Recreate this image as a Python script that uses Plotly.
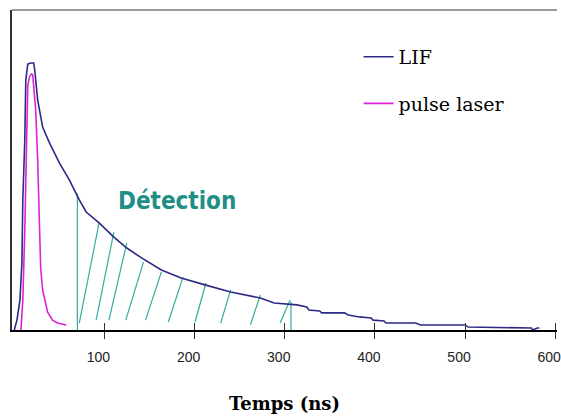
import plotly.graph_objects as go

# LIF curve (time in ns, normalised intensity)
lif_t = [0, 3.0, 6.3, 8.5, 9.5, 11.7, 12.8, 15.0, 18.3, 21.6, 22.7, 26.0, 31.5, 39.2, 50.2, 61.1,
         72.1, 79.8, 94.1, 110.5, 124.8, 141.2, 163.2, 185.1, 211.5, 240.0, 272.9, 288.3, 313.5,
         324.5, 326.7, 338.8, 341.0, 366.2, 370.6, 382.7, 395.8, 398.0, 410.1, 412.3, 445.2,
         450.7, 500.1, 503.4, 573.6, 574.7, 580.2, 582.4]
lif_v = [0, 0.037, 0.112, 0.251, 0.487, 0.712, 0.936, 0.996, 1.0, 1.0, 0.974, 0.861, 0.76, 0.70,
         0.625, 0.562, 0.487, 0.442, 0.401, 0.348, 0.307, 0.270, 0.225, 0.195, 0.169, 0.142, 0.120,
         0.101, 0.094, 0.086, 0.075, 0.071, 0.064, 0.064, 0.056, 0.049, 0.045, 0.037, 0.034, 0.026,
         0.026, 0.019, 0.019, 0.011, 0.0075, 0.0, 0.0075, 0.0075]

# laser pulse
pulse_t = [7.4, 9.5, 11.7, 12.8, 13.9, 15.0, 17.2, 19.4, 20.5, 21.6, 23.8, 26.0, 27.1, 28.2, 29.3,
           31.5, 33.7, 37.0, 42.5, 48.0, 57.8]
pulse_v = [0, 0.112, 0.375, 0.562, 0.787, 0.918, 0.951, 0.959, 0.955, 0.918, 0.824, 0.637, 0.487,
           0.337, 0.232, 0.150, 0.112, 0.067, 0.037, 0.026, 0.019]

# detection window (ns) and its hatching strokes
det_start, det_end = 70.0, 307.0
hatch_t0 = [72.1, 90.8, 105.0, 123.7, 145.6, 170.9, 200.5, 229.0, 262.0, 294.9]
hatch_v0 = [0.026, 0.037, 0.037, 0.037, 0.037, 0.030, 0.030, 0.026, 0.019, 0.026]
hatch_t1 = [94.1, 110.5, 124.8, 143.4, 163.2, 187.3, 212.6, 240.0, 272.9, 305.9]
hatch_v1 = [0.401, 0.367, 0.326, 0.255, 0.217, 0.199, 0.176, 0.150, 0.131, 0.112]

tick_vals = [100, 200, 300, 400, 500, 600]
tick_text = ["100", "200", "300", "400", "500", "600"]


def interp(t, xs, ys):
    for i in range(len(xs) - 1):
        if xs[i] <= t <= xs[i + 1]:
            f = (t - xs[i]) / (xs[i + 1] - xs[i])
            return ys[i] + f * (ys[i + 1] - ys[i])
    return ys[-1]


teal = "#35ab9f"
hx, hy = [], []
for a, b, c, d in zip(hatch_t0, hatch_v0, hatch_t1, hatch_v1):
    hx += [a, c, None]
    hy += [b, d, None]
for t in (det_start, det_end):
    hx += [t, t, None]
    hy += [0.0, interp(t, lif_t, lif_v) + 0.01, None]

fig = go.Figure()
fig.add_trace(go.Scatter(x=hx, y=hy, mode="lines", line=dict(color=teal, width=1.2),
                         showlegend=False, hoverinfo="skip"))
fig.add_trace(go.Scatter(x=lif_t, y=lif_v, mode="lines", name="LIF",
                         line=dict(color="#2c2a84", width=1.6), legendgroup="a"))
fig.add_trace(go.Scatter(x=pulse_t, y=pulse_v, mode="lines", name="pulse laser",
                         line=dict(color="#dc22d8", width=1.6), legendgroup="b"))
# overlay axis for inside half of crossing ticks
fig.add_trace(go.Scatter(x=[None], y=[None], xaxis="x2", showlegend=False, hoverinfo="skip"))

fig.add_annotation(x=180.7, y=0.483, xref="x", yref="y", text="Détection", showarrow=False,
                   font=dict(family="DejaVu Sans Condensed", size=24, color="#1f8f86", weight="bold"))

fig.add_shape(type="line", xref="paper", yref="paper", x0=0, x1=1, y0=1, y1=1,
              line=dict(color="#9a9a9a", width=2))

fig.update_layout(
    width=561, height=419,
    margin=dict(l=12, r=0, t=10, b=89),
    paper_bgcolor="white", plot_bgcolor="white",
    legend=dict(x=0.636, y=0.913, xanchor="left", yanchor="top", traceorder="grouped",
                tracegroupgap=19, bgcolor="rgba(0,0,0,0)",
                font=dict(family="DejaVu Serif", size=19, color="black")),
    xaxis=dict(range=[-2.5, 602], showgrid=False, zeroline=False, showline=True,
               linecolor="black", linewidth=1.5, ticks="outside", ticklen=7, tickwidth=1.2,
               tickcolor="#333", tickvals=tick_vals, ticktext=tick_text, ticklabelshift=-6,
               ticklabelstandoff=6, ticklabeloverflow="allow",
               tickfont=dict(family="Liberation Sans", size=14, color="#222"),
               title=dict(text="<b>Temps (ns)</b>", standoff=34,
                          font=dict(family="DejaVu Serif", size=18, color="black"))),
    xaxis2=dict(overlaying="x", matches="x", anchor="y", side="bottom", showgrid=False,
                zeroline=False, showline=False, ticks="inside", ticklen=7, tickwidth=1.2,
                tickcolor="#333", tickvals=tick_vals, showticklabels=False),
    yaxis=dict(range=[0, 1.1985], showgrid=False, zeroline=False, showline=True,
               linecolor="#333", linewidth=1.5, showticklabels=False, ticks=""),
)

fig.write_html("out.html")
